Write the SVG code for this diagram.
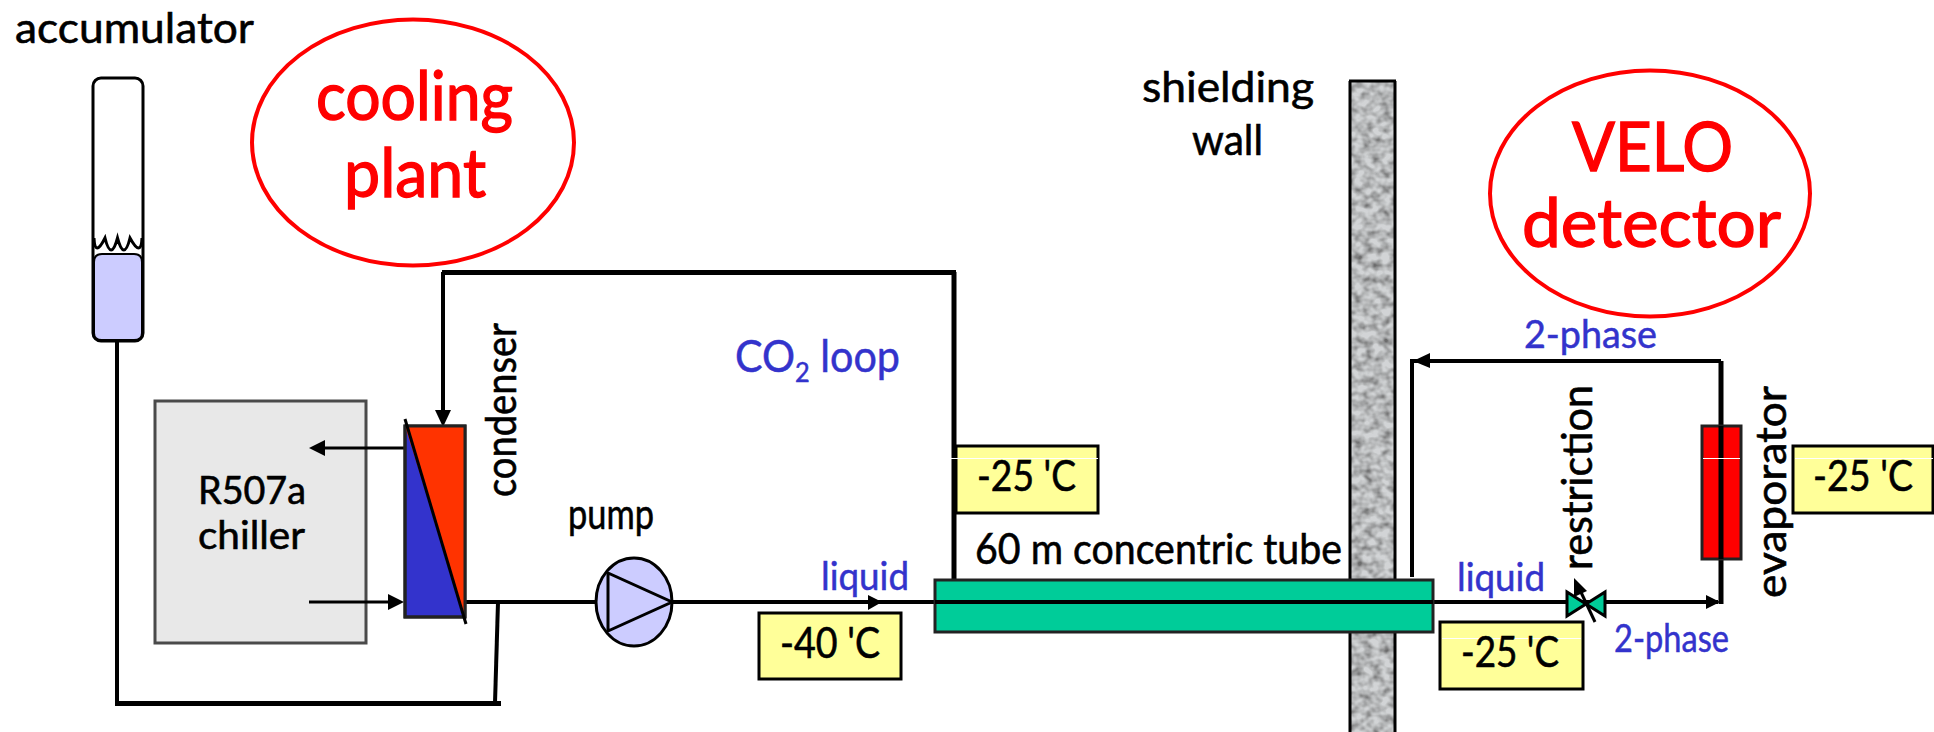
<svg xmlns="http://www.w3.org/2000/svg" width="1934" height="732" viewBox="0 0 1934 732">
<style>
text{font-family:"Lato","Liberation Sans",sans-serif;font-weight:400}
.k{font-size:43px;fill:#000;stroke:#000;stroke-width:.6}
.b{font-size:38px;fill:#3333cc;stroke:#3333cc;stroke-width:.5}
.r{font-size:68px;fill:#ff0000;stroke:#ff0000;stroke-width:1.400}
.t{font-size:38px;fill:#000;stroke:#000;stroke-width:.6}
.pipe{fill:none;stroke:#000;stroke-width:4}
.thin{fill:none;stroke:#000;stroke-width:3}
.fat{fill:none;stroke:#000;stroke-width:5}
.bx{fill:#ffff99;stroke:#000;stroke-width:3}
.hl{stroke:#fff;stroke-width:1;fill:none}
.ah{fill:#000;stroke:none}
.halo{fill:#fff;stroke:#ff0000;stroke-width:4}
</style>
<defs>
<filter id="grain" x="0" y="0" width="100%" height="100%">
<feTurbulence type="fractalNoise" baseFrequency="0.11 0.13" numOctaves="2" seed="7"/>
<feColorMatrix type="matrix" values="0 0 0 0 .15  0 0 0 0 .15  0 0 0 0 .15  1.900 0 0 0 -0.62"/>
<feGaussianBlur stdDeviation="0.7"/>
<feComposite in2="SourceGraphic" operator="in"/>
<feMerge><feMergeNode in="SourceGraphic"/><feMergeNode/></feMerge>
</filter>
</defs>

<g id="wall">
<rect x="1350" y="81" width="45" height="660" fill="#d2d4d6" filter="url(#grain)"/>
<path d="M1350 81V732M1395 81V732M1349 81H1396" fill="none" stroke="#000" stroke-width="3"/>
<text class="k" x="1142" y="102" textLength="172" lengthAdjust="spacingAndGlyphs">shielding</text>
<text class="k" x="1192" y="155" textLength="71" lengthAdjust="spacingAndGlyphs">wall</text>
</g>

<g id="chiller">
<rect x="155" y="401" width="211" height="242" fill="#e8e8e8" stroke="#4a4a4a" stroke-width="3"/>
<text class="t" x="198" y="504" textLength="108" lengthAdjust="spacingAndGlyphs">R507a</text>
<text class="t" x="198" y="549" textLength="107" lengthAdjust="spacingAndGlyphs">chiller</text>
</g>

<g id="connectors">
<path class="pipe" d="M117 341V703"/>
<path class="fat" d="M115 703.500H501"/>
<path class="pipe" d="M495 703L498 602"/>
<path class="pipe" d="M465 602H596"/>
<path class="pipe" d="M672 602H1433"/>
<path class="pipe" d="M1433 602H1718"/>
<path class="fat" d="M954 272V580"/>
<path class="fat" d="M442 272.500H956"/>
<path class="pipe" d="M443 272V412"/>
<path class="pipe" d="M1412 577V361H1721"/>
<path class="fat" d="M1721 361V604"/>
<path class="thin" d="M405 448H322"/>
<path class="thin" d="M309 602H392"/>
<polygon class="ah" points="443,427 435,410 451,410"/>
<polygon class="ah" points="309,448 325,440 325,456"/>
<polygon class="ah" points="404,602 388,594 388,610"/>
<polygon class="ah" points="882,602 868,595 868,610"/>
<polygon class="ah" points="1720,602 1706,595 1706,609"/>
<polygon class="ah" points="1413,361 1430,353 1430,368"/>
</g>

<g id="accumulator">
<rect x="93" y="78" width="50" height="263" rx="8" fill="#fff" stroke="#000" stroke-width="3"/>
<path d="M94 238Q95 258 105 238Q111 262 117.500 238Q124 262 130 238Q141 258 142 238" fill="none" stroke="#000" stroke-width="3"/>
<path d="M94 262Q94 254 102 254H134Q142 254 142 262V333Q142 340 134 340H102Q94 340 94 333Z" fill="#ccccff" stroke="#000" stroke-width="2"/>
<text class="k" x="15" y="43" textLength="239" lengthAdjust="spacingAndGlyphs">accumulator</text>
</g>

<g id="cooling-plant">
<ellipse class="halo" cx="413" cy="142.500" rx="161" ry="123"/>
<text class="r" x="316" y="120" textLength="197" lengthAdjust="spacingAndGlyphs">cooling</text>
<text class="r" x="344" y="197" textLength="142" lengthAdjust="spacingAndGlyphs">plant</text>
</g>

<g id="condenser">
<rect x="405" y="426" width="60" height="191" fill="#3333cc" stroke="#222" stroke-width="3"/>
<polygon points="405,426 465,426 465,617" fill="#ff3300"/>
<rect x="405" y="426" width="60" height="191" fill="none" stroke="#222" stroke-width="3"/>
<path d="M405 419L466 624" fill="none" stroke="#000" stroke-width="3"/>
<text class="k" transform="translate(516 497) rotate(-90)" textLength="174" lengthAdjust="spacingAndGlyphs">condenser</text>
</g>

<g id="pump">
<ellipse cx="634" cy="602" rx="38" ry="44" fill="#ccccff" stroke="#000" stroke-width="3"/>
<polygon points="608,573 608,631 672,602" fill="#ccccff" stroke="#000" stroke-width="3"/>
<text class="k" x="568" y="529" textLength="86" lengthAdjust="spacingAndGlyphs">pump</text>
</g>

<g id="co2-label">
<text class="b" x="735" y="372" style="font-size:44px" textLength="165" lengthAdjust="spacingAndGlyphs">CO<tspan dy="10" style="font-size:27px">2</tspan><tspan dy="-10"> loop</tspan></text>
</g>

<g id="tube">
<rect x="935" y="580" width="498" height="52" fill="#00cc99" stroke="#222" stroke-width="3"/>
<path class="pipe" d="M935 602H1433"/>
<text class="k" x="975" y="564" textLength="367" lengthAdjust="spacingAndGlyphs">60 m concentric tube</text>
</g>

<g id="temp-return">
<rect class="bx" x="956" y="446" width="142" height="67"/>
<path class="hl" d="M951 458.500H1098"/>
<text class="k" x="977" y="491" textLength="99" lengthAdjust="spacingAndGlyphs">-25 'C</text>
</g>
<g id="temp-pump">
<rect class="bx" x="759" y="613" width="142" height="66"/>
<text class="k" x="780" y="658" textLength="100" lengthAdjust="spacingAndGlyphs">-40 'C</text>
</g>
<g id="temp-restriction">
<rect class="bx" x="1440" y="622" width="143" height="67"/>
<path class="hl" d="M1442 638.500H1581"/>
<text class="k" x="1461" y="667" textLength="98" lengthAdjust="spacingAndGlyphs">-25 'C</text>
</g>
<g id="temp-evaporator">
<rect class="bx" x="1793" y="446" width="140" height="67"/>
<path class="hl" d="M1795 458.500H1933"/>
<text class="k" x="1813" y="491" textLength="100" lengthAdjust="spacingAndGlyphs">-25 'C</text>
</g>

<g id="flow-labels">
<text class="b" x="821" y="590" textLength="88" lengthAdjust="spacingAndGlyphs">liquid</text>
<text class="b" x="1457" y="591" textLength="88" lengthAdjust="spacingAndGlyphs">liquid</text>
<text class="b" x="1614" y="652" textLength="115" lengthAdjust="spacingAndGlyphs">2-phase</text>
<text class="b" x="1524" y="348" textLength="133" lengthAdjust="spacingAndGlyphs">2-phase</text>
</g>

<g id="restriction">
<polygon points="1567,592 1567,616 1605,592 1605,616" fill="#00cc99" stroke="#000" stroke-width="3"/>
<path d="M1595 622L1579 588" fill="none" stroke="#000" stroke-width="3"/>
<polygon class="ah" points="1574,578 1587,591 1574,597"/>
<text class="k" transform="translate(1592 570) rotate(-90)" textLength="185" lengthAdjust="spacingAndGlyphs">restriction</text>
</g>

<g id="evaporator">
<rect x="1702" y="426" width="39" height="133" fill="#ff0000" stroke="#222" stroke-width="3"/>
<path class="fat" d="M1721 426V559"/>
<path class="hl" d="M1703 458.500H1740"/>
<text class="k" transform="translate(1786 598) rotate(-90)" textLength="212" lengthAdjust="spacingAndGlyphs">evaporator</text>
</g>

<g id="velo-detector">
<ellipse class="halo" cx="1650" cy="193.500" rx="160" ry="123"/>
<text class="r" x="1572" y="171" textLength="161" lengthAdjust="spacingAndGlyphs">VELO</text>
<text class="r" x="1522" y="247" textLength="259" lengthAdjust="spacingAndGlyphs">detector</text>
</g>
</svg>
